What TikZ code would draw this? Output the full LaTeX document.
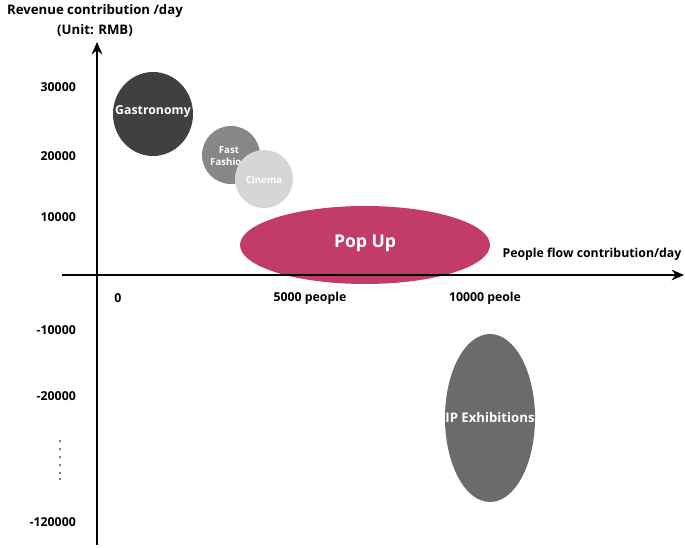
\documentclass[tikz,border=0pt]{standalone}
\usepackage{fontspec}
\setmainfont{Open Sans}
\usetikzlibrary{arrows.meta}
\definecolor{popc}{HTML}{C13D68}
\begin{document}
\begin{tikzpicture}[x=0.02cm,y=-0.02cm,
  lbl/.style={font=\bfseries\fontsize{7}{9}\selectfont,text=black},
  axis/.style={line width=1.1pt,-{Stealth[length=7pt,width=6pt]}},
  bub/.style={font=\bfseries\fontsize{7}{8}\selectfont,text=white,align=center}]
\useasboundingbox (0,0) rectangle (685,547);
% bubbles
\fill[black!75] (153,114) ellipse (40 and 42);
\node[bub] (gas) at (153,112) {Gastronomy};
\fill[black!47] (231,155) ellipse (29 and 29);
\node[bub,font=\bfseries\fontsize{5.5}{7}\selectfont] (ff) at (229,156) {Fast\\Fashion};
\fill[black!16] (264,179) ellipse (29 and 29);
\node[bub,font=\bfseries\fontsize{5.5}{7}\selectfont] (cin) at (264,180) {Cinema};
\fill[popc] (365,245) ellipse (125 and 39);
\node[bub,font=\bfseries\fontsize{10}{12}\selectfont] (pop) at (365,243) {Pop Up};
\fill[black!58] (490,418) ellipse (45 and 84);
\node[bub,font=\bfseries\fontsize{7.5}{9}\selectfont] (ip) at (490,418) {IP Exhibitions};
% axes
\coordinate (yb) at (97,545); \coordinate (yt) at (97,42);
\coordinate (xl) at (62,275); \coordinate (xr) at (684,275);
\draw[axis] (yb) -- (yt);
\draw[axis] (xl) -- (xr);
% titles
\node[lbl,font=\bfseries\fontsize{7.5}{9}\selectfont] (t1) at (95,11) {Revenue contribution /day};
\node[lbl,font=\bfseries\fontsize{7.5}{9}\selectfont] (t2) at (95,31) {(Unit: RMB)};
\node[lbl] (xt) at (592,254) {People flow contribution/day};
% y labels
\node[lbl,anchor=east] (y1) at (82,87) {30000};
\node[lbl,anchor=east] (y2) at (82,156) {20000};
\node[lbl,anchor=east] (y3) at (82,217) {10000};
\node[lbl,anchor=east] (y4) at (82,330) {-10000};
\node[lbl,anchor=east] (y5) at (82,396) {-20000};
\node[lbl,anchor=east] (y6) at (82,522) {-120000};
\foreach \yy in {441,449,457,465,473,479} \fill (60,\yy) circle (0.9);
% x labels
\node[lbl] (x0) at (118,298) {0};
\node[lbl] (x1) at (310,298) {5000 people};
\node[lbl] (x2) at (485,298) {10000 peole};
\end{tikzpicture}
\end{document}
